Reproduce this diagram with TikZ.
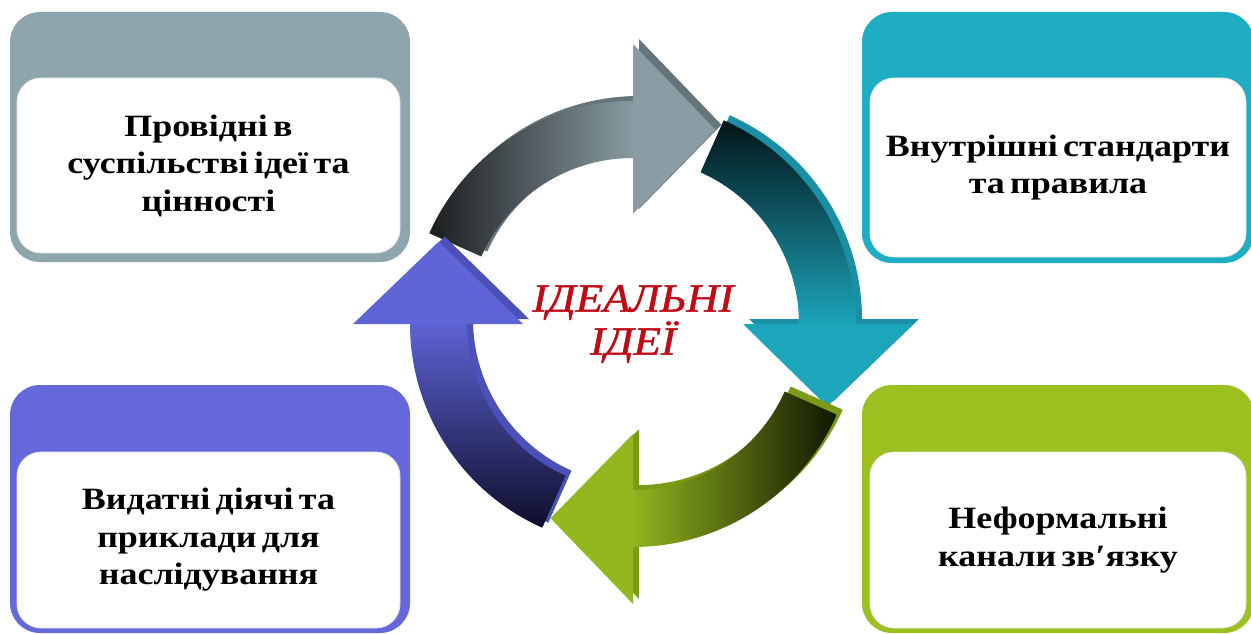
\documentclass[tikz,border=0pt]{standalone}
\usepackage{fontspec}
\setmainfont{Liberation Serif}
\newfontfamily\boxfont[FakeStretch=1.16, WordSpace=0.6]{Liberation Serif}
\newfontfamily\ideafont[FakeStretch=1.12, FakeBold=1.2]{Liberation Serif}
\usetikzlibrary{calc}
\definecolor{boxgray}{HTML}{8EA5AD}
\definecolor{boxteal}{HTML}{1FADC3}
\definecolor{boxblue}{HTML}{6468DA}
\definecolor{boxgreen}{HTML}{9BC020}
\definecolor{ideared}{HTML}{C00A14}
\definecolor{graydark}{HTML}{1B1D1E}
\definecolor{graylight}{HTML}{8A9DA5}
\definecolor{grayside}{HTML}{66757B}
\definecolor{tealdark}{HTML}{031418}
\definecolor{teallight}{HTML}{1CA6BC}
\definecolor{tealside}{HTML}{1B8FA4}
\definecolor{greendark}{HTML}{101600}
\definecolor{greenlight}{HTML}{93B81F}
\definecolor{greenside}{HTML}{7A9A18}
\definecolor{bluedark}{HTML}{0D0E2A}
\definecolor{bluelight}{HTML}{5F64D6}
\definecolor{blueside}{HTML}{4C51B8}
\newcommand\shaftpath[1]{({#1+66}:223) arc[start angle={#1+66}, end angle={#1-1}, radius=223] -- ({#1-1}:166) arc[start angle={#1-1}, end angle={#1+66}, radius=166] -- cycle}
\newcommand\headpath[1]{({#1}:110) -- ({#1}:280) -- ({#1-23}:211) -- cycle}
\newcommand\ringarrow[4]{%
  \fill[#2, shift={(6,5)}] \shaftpath{#1};
  \fill[#2, shift={(6,5)}] \headpath{#1};
  \shade[#3] \shaftpath{#1};
  \fill[#4] \headpath{#1};
}
\tikzset{
  outerbox/.style={rounded corners=30pt, inner sep=0pt},
  innerbox/.style={fill=white, draw=black!10, line width=0.8pt, rounded corners=24pt,
    align=center, inner sep=0pt, font=\boxfont\fontsize{31}{37.5}\selectfont\bfseries},
  ideatext/.style={align=center, inner sep=0pt, font=\ideafont\fontsize{40}{43}\selectfont\itshape}
}
\begin{document}
\begin{tikzpicture}[x=1pt,y=1pt]
\useasboundingbox (0,0) rectangle (1251,-634);
\fill[white] (0,0) rectangle (1251,-634);
% corner boxes
\node[outerbox, fill=boxgray, minimum width=400pt, minimum height=250pt] (tlbg) at (210,-137) {};
\node[innerbox, minimum width=383pt, minimum height=175pt] (tl) at (208.5,-165.5) {Провідні в\\суспільстві ідеї та\\цінності};
\node[outerbox, fill=boxteal, minimum width=392pt, minimum height=251pt] (trbg) at (1058,-137.5) {};
\node[innerbox, minimum width=376pt, minimum height=179pt] (tr) at (1058,-167.5) {Внутрішні стандарти\\та правила};
\node[outerbox, fill=boxblue, minimum width=400pt, minimum height=248pt] (blbg) at (210,-509) {};
\node[innerbox, minimum width=383pt, minimum height=176pt] (bl) at (208.5,-540) {Видатні діячі та\\приклади для\\наслідування};
\node[outerbox, fill=boxgreen, minimum width=392pt, minimum height=248pt] (brbg) at (1058,-509) {};
\node[innerbox, minimum width=376pt, minimum height=176pt] (br) at (1058,-540) {Неформальні\\канали зв′язку};
% circular arrows
\begin{scope}[shift={(633,-324)}]
\ringarrow{90}{grayside}{left color=graydark, right color=graylight}{graylight}
\ringarrow{0}{tealside}{top color=tealdark, bottom color=teallight}{teallight}
\ringarrow{-90}{greenside}{left color=greenlight, right color=greendark}{greenlight}
\ringarrow{180}{blueside}{top color=bluelight, bottom color=bluedark}{bluelight}
\end{scope}
% centre title
\node[ideatext, text=ideared] (idea) at (633,-324) {ІДЕАЛЬНІ\\ІДЕЇ};
\end{tikzpicture}
\end{document}
